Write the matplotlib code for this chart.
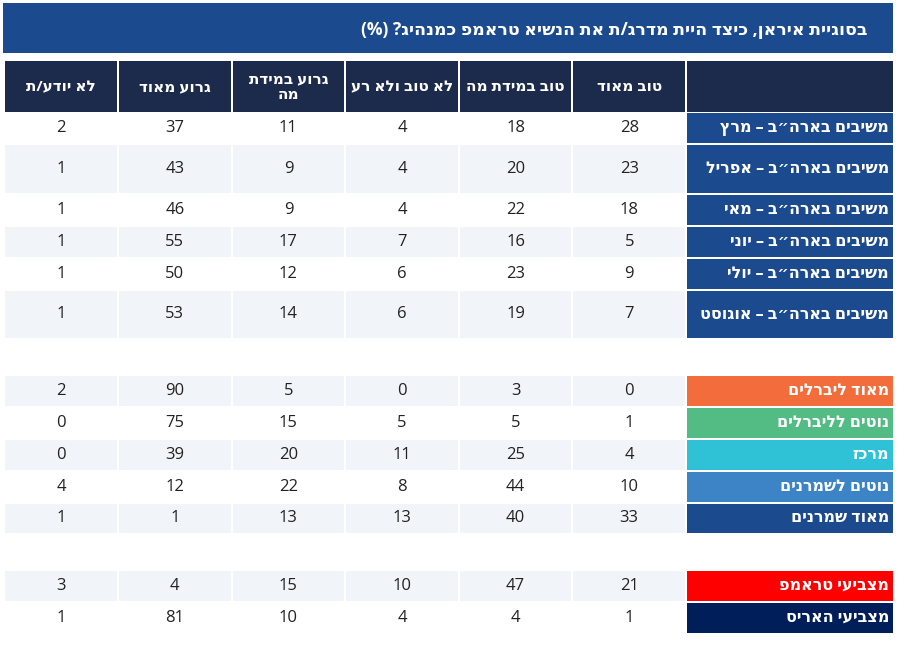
"""
Table: rating of President Trump's leadership on Iran, by month and by political group.
"""

import matplotlib.pyplot as plt
from matplotlib.patches import Rectangle

TITLE = "בסוגיית איראן, כיצד היית מדרג/ת את הנשיא טראמפ כמנהיג? (%)"

# columns in reading (right-to-left) order
COLUMNS = ["טוב מאוד", "טוב במידת מה", "לא טוב ולא רע", "גרוע במידת\nמה", "גרוע מאוד", "לא יודע/ת"]

ROW_LABELS = [
    "משיבים בארה״ב – מרץ",
    "משיבים בארה״ב – אפריל",
    "משיבים בארה״ב – מאי",
    "משיבים בארה״ב – יוני",
    "משיבים בארה״ב – יולי",
    "משיבים בארה״ב – אוגוסט",
    "מאוד ליברלים",
    "נוטים לליברלים",
    "מרכז",
    "נוטים לשמרנים",
    "מאוד שמרנים",
    "מצביעי טראמפ",
    "מצביעי האריס",
]

very_good = [28, 23, 18, 5, 9, 7, 0, 1, 4, 10, 33, 21, 1]
somewhat_good = [18, 20, 22, 16, 23, 19, 3, 5, 25, 44, 40, 47, 4]
neither = [4, 4, 4, 7, 6, 6, 0, 5, 11, 8, 13, 10, 4]
somewhat_bad = [11, 9, 9, 17, 12, 14, 5, 15, 20, 22, 13, 15, 10]
very_bad = [37, 43, 46, 55, 50, 53, 90, 75, 39, 12, 1, 4, 81]
dont_know = [2, 1, 1, 1, 1, 1, 2, 0, 0, 4, 1, 3, 1]

LABEL_COLORS = [
    "#1c4a8e", "#1c4a8e", "#1c4a8e", "#1c4a8e", "#1c4a8e", "#1c4a8e",
    "#f26c3c", "#53bc85", "#2fc2d6", "#3c84c6", "#1c4a8e",
    "#ff0000", "#001e5a",
]

# layout (pixels)
ROW_TOPS = [113, 145, 195, 227, 259, 291, 376, 408, 440, 472, 504, 571, 603]
ROW_HEIGHTS = [30, 48, 30, 30, 30, 47, 30, 30, 30, 30, 29, 30, 30]
ROW_SHADED = [False, True, False, True, False, True, True, False, True, False, True, True, False]
COL_RIGHT = 686
COL_W = 113.6
LABEL_LEFT, LABEL_RIGHT = 687, 893

TITLE_BG = "#1c4a8e"
HEADER_BG = "#1c2a4b"
SHADE = "#f1f4f9"
FONT = ["Open Sans", "DejaVu Sans"]


def rtl(s):
    # matplotlib has no bidi support: reverse Hebrew lines and mirror brackets
    swap = {"(": ")", ")": "(", "[": "]", "]": "["}
    return "\n".join("".join(swap.get(c, c) for c in line[::-1]) for line in s.split("\n"))


def main():
    values = [very_good, somewhat_good, neither, somewhat_bad, very_bad, dont_know]

    fig = plt.figure(figsize=(9.03, 6.47), dpi=100)
    ax = fig.add_axes([0, 0, 1, 1])
    ax.set_xlim(0, 903)
    ax.set_ylim(647, 0)
    ax.axis("off")

    # title bar
    ax.add_patch(Rectangle((3, 3), 890, 50, color=TITLE_BG, lw=0))
    ax.text(868, 30, rtl(TITLE), ha="right", va="center", color="white",
            fontsize=12.5, fontweight="bold", family=FONT)

    # header row
    ax.add_patch(Rectangle((LABEL_LEFT, 61), LABEL_RIGHT - LABEL_LEFT, 51, color=HEADER_BG, lw=0))
    for j, name in enumerate(COLUMNS):
        x0 = COL_RIGHT - (j + 1) * COL_W
        ax.add_patch(Rectangle((x0 + 1, 61), COL_W - 2, 51, color=HEADER_BG, lw=0))
        ax.text(x0 + COL_W / 2, 87, rtl(name), ha="center", va="center", color="white",
                fontsize=11, fontweight="bold", family=FONT, linespacing=1.2)

    # body rows
    for i, label in enumerate(ROW_LABELS):
        top, h = ROW_TOPS[i], ROW_HEIGHTS[i]
        yc = top + h / 2
        ax.add_patch(Rectangle((LABEL_LEFT, top), LABEL_RIGHT - LABEL_LEFT, h,
                               color=LABEL_COLORS[i], lw=0))
        ax.text(LABEL_RIGHT - 4, yc, rtl(label), ha="right", va="center", color="white",
                fontsize=11.5, fontweight="bold", family=FONT)
        for j, col in enumerate(values):
            x0 = COL_RIGHT - (j + 1) * COL_W
            if ROW_SHADED[i]:
                ax.add_patch(Rectangle((x0 + 1, top), COL_W - 2, h, color=SHADE, lw=0))
            ax.text(x0 + COL_W / 2, yc, str(col[i]), ha="center", va="center",
                    color="#222222", fontsize=12, family=FONT)

    fig.savefig("out.png", dpi=100)


if __name__ == "__main__":
    main()
